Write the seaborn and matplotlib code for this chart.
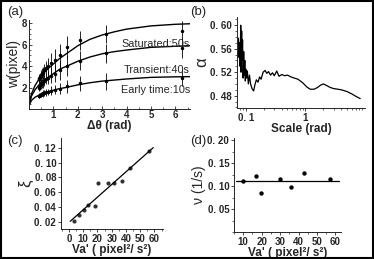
import numpy as np
import pandas as pd
import matplotlib
matplotlib.use("Agg")
import matplotlib.pyplot as plt
import seaborn as sns
from matplotlib.patches import Rectangle
from matplotlib.ticker import FuncFormatter, MultipleLocator

sns.set_style("ticks")
plt.rcParams['font.family'] = ['Liberation Sans', 'DejaVu Sans']

# ---- (a) width vs delta theta ----
curve_x = [0.0, 0.1, 0.25, 0.5, 0.75, 1.0, 1.25, 1.5, 2.0, 2.5, 3.0, 3.5, 4.0, 5.0, 6.0, 6.6]
w_sat = [0.4, 1.4, 2.2, 3.1, 3.7, 4.2, 4.7, 5.1, 5.9, 6.5, 6.9, 7.2, 7.45, 7.75, 7.9, 7.95]
w_tra = [0.4, 1.2, 1.8, 2.5, 2.9, 3.3, 3.7, 3.95, 4.45, 4.85, 5.15, 5.35, 5.5, 5.75, 5.85, 5.9]
w_early = [0.3, 0.8, 1.1, 1.4, 1.6, 1.75, 1.9, 2.0, 2.25, 2.45, 2.6, 2.7, 2.8, 2.95, 3.0, 3.02]

dtheta = [6.28, 3.14, 2.09, 1.57, 1.26, 1.05, 0.90, 0.79, 0.70, 0.63, 0.57, 0.52, 0.48, 0.45, 0.42, 0.39]
pt_sat = [7.3, 7.0, 6.4, 5.8, 5.0, 4.6, 4.3, 4.0, 3.8, 3.6, 3.4, 3.3, 3.1, 3.0, 2.9, 2.8]
err_sat = [0.9, 0.8, 0.9, 1.0, 1.1, 1.0, 0.9, 0.8, 0.7, 0.6, 0.5, 0.5, 0.5, 0.4, 0.4, 0.4]
pt_tra = [5.7, 5.2, 4.5, 4.0, 3.6, 3.3, 3.1, 2.9, 2.8, 2.6, 2.5, 2.4, 2.3, 2.2, 2.1, 2.0]
err_tra = [0.9, 0.9, 0.9, 0.9, 0.9, 0.8, 0.7, 0.6, 0.5, 0.5, 0.5, 0.4, 0.4, 0.4, 0.3, 0.3]
pt_early = [2.9, 2.6, 2.4, 2.1, 1.9, 1.8, 1.7, 1.6, 1.55, 1.5, 1.45, 1.4, 1.35, 1.3, 1.25, 1.2]
err_early = [0.8, 0.8, 0.7, 0.6, 0.5, 0.4, 0.4, 0.3, 0.3, 0.3, 0.3, 0.2, 0.2, 0.2, 0.2, 0.2]

# ---- (b) alpha vs scale ----
scale = [0.075, 0.077, 0.079, 0.080, 0.082, 0.083, 0.085, 0.086, 0.088, 0.090,
         0.092, 0.094, 0.096, 0.098, 0.100, 0.103, 0.106, 0.110, 0.115, 0.120,
         0.127, 0.135, 0.143, 0.150, 0.160, 0.170, 0.180, 0.195, 0.210, 0.225,
         0.240, 0.26, 0.28, 0.30, 0.33, 0.36, 0.40, 0.45, 0.50, 0.57,
         0.65, 0.75, 0.9, 1.05, 1.2, 1.4, 1.6, 1.8, 2.0, 2.3,
         2.6, 3.0, 3.5, 4.0, 5.0, 6.0, 7.0, 8.3]
alpha = [0.578, 0.545, 0.570, 0.530, 0.600, 0.520, 0.590, 0.540, 0.575, 0.510,
         0.555, 0.515, 0.540, 0.505, 0.525, 0.510, 0.522, 0.500, 0.515, 0.500,
         0.492, 0.488, 0.500, 0.507, 0.503, 0.512, 0.508, 0.520, 0.523, 0.518,
         0.521, 0.515, 0.519, 0.514, 0.522, 0.513, 0.516, 0.514, 0.515, 0.512,
         0.510, 0.508, 0.502, 0.495, 0.491, 0.491, 0.494, 0.498, 0.500, 0.497,
         0.494, 0.492, 0.491, 0.490, 0.487, 0.483, 0.479, 0.475]

# ---- (c) xi vs Va' ----
va_c = [3.5, 7.3, 10.3, 13.6, 18.1, 20.2, 27.7, 31.7, 37.5, 43.0, 56.5]
xi = [0.022, 0.029, 0.036, 0.043, 0.042, 0.073, 0.072, 0.072, 0.0755, 0.092, 0.1156]

# ---- (d) nu vs Va' ----
va_d = [10, 17, 19.5, 30, 36, 43, 57]
nu = [0.112, 0.123, 0.086, 0.116, 0.098, 0.129, 0.116]

W, H = 374, 259
fig = plt.figure(figsize=(W / 100, H / 100), dpi=100)

def box(l, t, r, b):
    return [l / W, (H - b) / H, (r - l) / W, (b - t) / H]

tick_kw = dict(labelsize=7, width=0.6, length=2.5, pad=1)
dot_fmt = FuncFormatter(lambda v, _: f"{v:.2f}".replace(".", ". "))

def style(ax, direction):
    sns.despine(ax=ax)
    for s in ["left", "bottom"]:
        ax.spines[s].set_linewidth(0.7)
    ax.tick_params(which="major", direction=direction, **tick_kw)
    ax.tick_params(which="minor", direction=direction, width=0.5, length=1.5)
    for lab in ax.get_xticklabels() + ax.get_yticklabels():
        lab.set_fontweight("bold")

# (a)
ax = fig.add_axes(box(29, 20, 190, 109))
for yc in [w_sat, w_tra, w_early]:
    sns.lineplot(x=curve_x, y=yc, ax=ax, color="black", lw=1.0)
for yp, ye in [(pt_sat, err_sat), (pt_tra, err_tra), (pt_early, err_early)]:
    ax.errorbar(dtheta, yp, yerr=ye, fmt="o", ms=1.5, color="black", ecolor="black",
                elinewidth=0.6, capsize=0)
ax.set_xlim(0, 6.6)
ax.set_ylim(0, 8.3)
ax.set_xticks([1, 2, 3, 4, 5, 6])
ax.set_yticks([2, 4, 6, 8])
ax.yaxis.set_minor_locator(MultipleLocator(0.5))
ax.xaxis.set_minor_locator(MultipleLocator(0.5))
ax.set_xlabel("Δθ (rad)", fontsize=8.5, fontweight="bold", labelpad=0)
ax.set_ylabel("w(pixel)", fontsize=10, labelpad=1)
ax.text(6.6, 6.1, "Saturated:50s", ha="right", va="center", fontsize=7.8)
ax.text(6.6, 3.6, "Transient:40s", ha="right", va="center", fontsize=7.8)
ax.text(6.6, 1.8, "Early time:10s", ha="right", va="center", fontsize=7.8)
style(ax, "in")

# (b)
ax = fig.add_axes(box(237, 17, 365, 108))
sns.lineplot(x=scale, y=alpha, ax=ax, color="black", lw=0.9, sort=False)
ax.set_xscale("log")
ax.set_xlim(0.071, 10)
ax.set_ylim(0.459, 0.614)
ax.set_xticks([0.1, 1])
ax.set_xticklabels(["0. 1", "1"])
ax.set_yticks([0.48, 0.52, 0.56, 0.60])
ax.yaxis.set_major_formatter(dot_fmt)
ax.yaxis.set_minor_locator(MultipleLocator(0.01))
ax.set_xlabel("Scale (rad)", fontsize=8.5, fontweight="bold", labelpad=0)
ax.set_ylabel("α", fontsize=12, labelpad=1)
style(ax, "out")

# (c)
ax = fig.add_axes(box(61, 138, 163, 229))
df_c = pd.DataFrame({"va": va_c, "xi": xi})
sns.regplot(data=df_c, x="va", y="xi", ax=ax, ci=None, truncate=False,
            scatter_kws=dict(s=9, color="black", linewidths=0),
            line_kws=dict(color="black", lw=0.9))
ax.set_xlim(-5.6, 66)
ax.set_ylim(0.0106, 0.133)
ax.set_xticks(range(0, 61, 10))
ax.set_yticks([0.02, 0.04, 0.06, 0.08, 0.10, 0.12])
ax.yaxis.set_major_formatter(dot_fmt)
ax.xaxis.set_minor_locator(MultipleLocator(5))
ax.set_xlabel("Va' ( pixel²/ s²)", fontsize=8.5, fontweight="bold", labelpad=0)
ax.set_ylabel("ξ", fontsize=12, labelpad=1)
style(ax, "out")

# (d)
ax = fig.add_axes(box(234, 138, 341, 232))
sns.scatterplot(x=va_d, y=nu, ax=ax, color="black", s=10, linewidth=0)
ax.axhline(np.mean(nu), color="black", lw=0.9, xmin=0.02, xmax=0.98)
ax.set_xlim(5, 63)
ax.set_ylim(0, 0.205)
ax.set_xticks(range(10, 61, 10))
ax.set_yticks([0.05, 0.10, 0.15, 0.20])
ax.yaxis.set_major_formatter(dot_fmt)
ax.xaxis.set_minor_locator(MultipleLocator(5))
ax.yaxis.set_minor_locator(MultipleLocator(0.025))
ax.set_xlabel("Va' ( pixel²/ s²)", fontsize=8.5, fontweight="bold", labelpad=0)
ax.set_ylabel("ν (1/s)", fontsize=10, labelpad=1)
style(ax, "out")

# panel letters
for txt, (px, py) in zip(["(a)", "(b)", "(c)", "(d)"], [(7, 12), (190, 12), (7, 141), (190, 141)]):
    fig.text(px / W, 1 - py / H, txt, fontsize=9.5, va="center", ha="left")

# outer frame
fig.patches.append(Rectangle((0.002, 0.003), 0.995, 0.994, transform=fig.transFigure,
                             fill=False, edgecolor="black", lw=1.5))

fig.savefig("out.png", dpi=100)
